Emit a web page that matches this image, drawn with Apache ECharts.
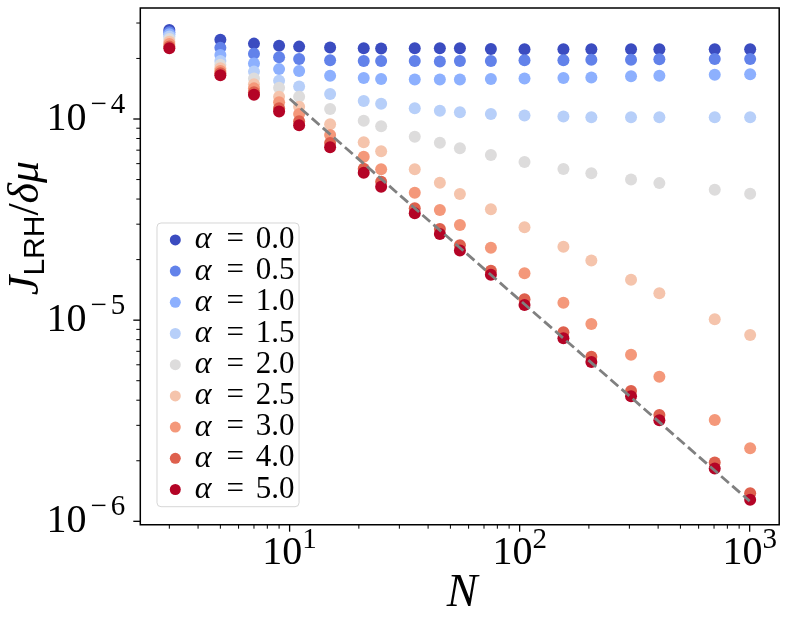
<!DOCTYPE html>
<html><head><meta charset="utf-8">
<script src="https://cdn.jsdelivr.net/npm/echarts@6/dist/echarts.min.js"></script>
<style>html,body{margin:0;padding:0;background:#fff}#c{width:788px;height:623px}</style>
</head><body><div id="c"></div>
<script>
// ---- data ----
const N = [3,5,7,9,11,15,21,25,35,45,55,75,105,155,205,305,405,705,1005];
const alphaLabels = ['0.0','0.5','1.0','1.5','2.0','2.5','3.0','4.0','5.0'];
const seriesColors = ['#3b4cc0','#6282ea','#8db0fe','#b7cff9','#dddcdc','#f5c4ac','#f4987a','#de604d','#b40426'];
const J_a00 = [2.77e-4,2.48e-4,2.37e-4,2.31e-4,2.29e-4,2.27e-4,2.25e-4,2.24e-4,2.25e-4,2.25e-4,2.25e-4,2.23e-4,2.22e-4,2.22e-4,2.22e-4,2.22e-4,2.22e-4,2.22e-4,2.22e-4];
const J_a05 = [2.70e-4,2.26e-4,2.11e-4,2.03e-4,1.99e-4,1.96e-4,1.94e-4,1.94e-4,1.94e-4,1.93e-4,1.94e-4,1.94e-4,1.96e-4,1.96e-4,1.97e-4,1.97e-4,1.98e-4,1.99e-4,1.99e-4];
const J_a10 = [2.64e-4,2.08e-4,1.89e-4,1.77e-4,1.73e-4,1.64e-4,1.60e-4,1.58e-4,1.57e-4,1.57e-4,1.57e-4,1.58e-4,1.59e-4,1.60e-4,1.61e-4,1.63e-4,1.64e-4,1.66e-4,1.67e-4];
const J_a15 = [2.57e-4,1.94e-4,1.72e-4,1.55e-4,1.45e-4,1.33e-4,1.23e-4,1.19e-4,1.13e-4,1.10e-4,1.08e-4,1.06e-4,1.04e-4,1.03e-4,1.02e-4,1.02e-4,1.02e-4,1.02e-4,1.02e-4];
const J_a20 = [2.50e-4,1.86e-4,1.59e-4,1.43e-4,1.29e-4,1.12e-4,9.80e-5,9.20e-5,8.17e-5,7.62e-5,7.15e-5,6.62e-5,6.11e-5,5.64e-5,5.37e-5,5.00e-5,4.80e-5,4.45e-5,4.25e-5];
const J_a25 = [2.42e-4,1.79e-4,1.49e-4,1.29e-4,1.15e-4,9.42e-5,7.66e-5,6.91e-5,5.62e-5,4.82e-5,4.24e-5,3.56e-5,2.90e-5,2.32e-5,1.98e-5,1.59e-5,1.36e-5,1.01e-5,8.44e-6];
const J_a30 = [2.36e-4,1.73e-4,1.42e-4,1.21e-4,1.06e-4,8.33e-5,6.49e-5,5.62e-5,4.30e-5,3.53e-5,2.97e-5,2.29e-5,1.71e-5,1.22e-5,9.57e-6,6.73e-6,5.23e-6,3.19e-6,2.31e-6];
const J_a40 = [2.29e-4,1.69e-4,1.36e-4,1.13e-4,9.75e-5,7.60e-5,5.66e-5,4.88e-5,3.60e-5,2.84e-5,2.36e-5,1.76e-5,1.27e-5,8.70e-6,6.58e-6,4.44e-6,3.38e-6,1.96e-6,1.38e-6];
const J_a50 = [2.25e-4,1.65e-4,1.32e-4,1.09e-4,9.30e-5,7.23e-5,5.41e-5,4.61e-5,3.40e-5,2.68e-5,2.22e-5,1.68e-5,1.19e-5,8.12e-6,6.20e-6,4.18e-6,3.18e-6,1.83e-6,1.28e-6];
const allJ = [J_a00,J_a05,J_a10,J_a15,J_a20,J_a25,J_a30,J_a40,J_a50];
// reference 1/N guide line (end points)
const refN = [10, 1000];
const refJ = [1.26e-4, 1.26e-6];
// axis ticks
const xMajorTicks = [10, 100, 1000];
const xMinorTicks = [3,4,5,6,7,8,9,20,30,40,50,60,70,80,90,200,300,400,500,600,700,800,900];
const yMajorTicks = [1e-6, 1e-5, 1e-4];
const yMinorTicks = [2e-6,3e-6,4e-6,5e-6,6e-6,7e-6,8e-6,9e-6,2e-5,3e-5,4e-5,5e-5,6e-5,7e-5,8e-5,9e-5,2e-4,3e-4];

// ---- chart ----
const X_MIN = 2.2434, X_MAX = 1344, Y_MIN = 9.62e-7, Y_MAX = 3.563e-4;
const SERIF = '"Liberation Serif", "DejaVu Serif", serif';
const SANS = '"Liberation Sans", "DejaVu Sans", sans-serif';
const chart = echarts.init(document.getElementById('c'), null, {renderer: 'canvas', width: 788, height: 623});

function powLabel(v) {
  const e = Math.log10(v), r = Math.round(e);
  if (Math.abs(e - r) > 1e-6) return '';
  if (r < 0) return '{b|10}{m|\u2212}{s|' + (-r) + '}';
  return '{b|10}{s|' + r + '}';
}
const tickRich = {
  b: {fontFamily: SERIF, fontSize: 40, lineHeight: 56, color: '#000'},
  m: {fontFamily: SERIF, fontSize: 29, lineHeight: 8, color: '#000', verticalAlign: 'top', padding: [0, 4, 0, 4]},
  s: {fontFamily: SERIF, fontSize: 29, lineHeight: 8, color: '#000', verticalAlign: 'top'}
};

function tickSeries(data, isX) {
  return {
    type: 'custom', silent: true, clip: false, z: 10, data: data,
    encode: {x: 0, y: 1},
    renderItem: function (params, api) {
      const p = api.coord([api.value(0), api.value(1)]);
      const len = api.value(2), w = api.value(3);
      const shape = isX ? {x1: p[0], y1: p[1], x2: p[0], y2: p[1] + len}
                        : {x1: p[0] - len, y1: p[1], x2: p[0], y2: p[1]};
      return {type: 'line', shape: shape, style: {stroke: '#000', lineWidth: w}};
    }
  };
}

const names = alphaLabels.map(a => '\u03b1 = ' + a);
const series = allJ.map((arr, i) => ({
  type: 'scatter', name: names[i],
  data: N.map((n, k) => [n, arr[k]]),
  symbol: 'circle', symbolSize: 12,
  itemStyle: {color: seriesColors[i], opacity: 1},
  emphasis: {disabled: true}, z: 2
}));
series.push({
  type: 'line', name: 'guide', data: refN.map((n, k) => [n, refJ[k]]),
  symbol: 'none', silent: true, z: 4,
  lineStyle: {color: '#808080', width: 2.8, type: [10.3, 4.4]}
});
series.push(tickSeries(xMajorTicks.map(v => [v, Y_MIN, 7, 1.3]), true));
series.push(tickSeries(xMinorTicks.map(v => [v, Y_MIN, 4, 1.0]), true));
series.push(tickSeries(yMajorTicks.map(v => [X_MIN, v, 7, 1.3]), false));
series.push(tickSeries(yMinorTicks.map(v => [X_MIN, v, 4, 1.0]), false));

chart.setOption({
  animation: false,
  backgroundColor: '#fff',
  textStyle: {fontFamily: SERIF, color: '#000'},
  grid: {left: 140.3, top: 8, width: 638.9, height: 516.7, show: true,
         borderColor: '#000', borderWidth: 1.5, backgroundColor: 'transparent',
         containLabel: false, outerBoundsMode: 'none'},
  xAxis: {type: 'log', logBase: 10, min: X_MIN, max: X_MAX,
    axisLine: {show: false}, axisTick: {show: false}, splitLine: {show: false}, minorTick: {show: false},
    axisLabel: {margin: 1, formatter: powLabel, rich: tickRich, showMinLabel: false, showMaxLabel: false}},
  yAxis: {type: 'log', logBase: 10, min: Y_MIN, max: Y_MAX,
    axisLine: {show: false}, axisTick: {show: false}, splitLine: {show: false}, minorTick: {show: false},
    axisLabel: {margin: 15, formatter: powLabel, rich: tickRich, showMinLabel: false, showMaxLabel: false}},
  legend: {
    orient: 'vertical', left: 157, top: 223, padding: [0.9, 4.5, 1.2, 12.8],
    itemWidth: 11, itemHeight: 11, itemGap: -0.8, icon: 'circle', selectedMode: false,
    backgroundColor: 'rgba(255,255,255,0.8)', borderColor: 'rgba(204,204,204,0.8)',
    borderWidth: 1, borderRadius: 4, data: names,
    formatter: function (name) { return '{a|\u03b1}{e|=}{n|' + name.split('= ')[1] + '}'; },
    textStyle: {fontFamily: SERIF, fontSize: 31, lineHeight: 24, rich: {
      a: {fontFamily: SERIF, fontStyle: 'italic', fontSize: 32, lineHeight: 24, color: '#000', width: 20, padding: [0, 0, 0, 9]},
      e: {fontFamily: SERIF, fontSize: 31, lineHeight: 24, color: '#000', width: 41, align: 'center'},
      n: {fontFamily: SERIF, fontSize: 31, lineHeight: 24, color: '#000'}
    }}
  },
  graphic: [
    {type: 'text', x: 462, y: 594, z: 20,
     style: {text: 'N', font: 'italic 46px ' + SERIF, fill: '#000', align: 'center', verticalAlign: 'middle'}},
    {type: 'text', x: 26, y: 228, rotation: Math.PI / 2, z: 20,
     style: {text: '{j|J}{l|LRH}{d|/}{g|\u03b4\u03bc}', align: 'center', verticalAlign: 'middle',
       rich: {
         j: {fontFamily: SERIF, fontStyle: 'italic', fontSize: 44, lineHeight: 50, fill: '#000'},
         l: {fontFamily: SANS, fontSize: 30, lineHeight: 24, verticalAlign: 'bottom', fill: '#000'},
         d: {fontFamily: SERIF, fontSize: 44, lineHeight: 50, fill: '#000'},
         g: {fontFamily: SERIF, fontStyle: 'italic', fontSize: 44, lineHeight: 50, fill: '#000'}
       }}}
  ],
  series: series
});
</script></body></html>
